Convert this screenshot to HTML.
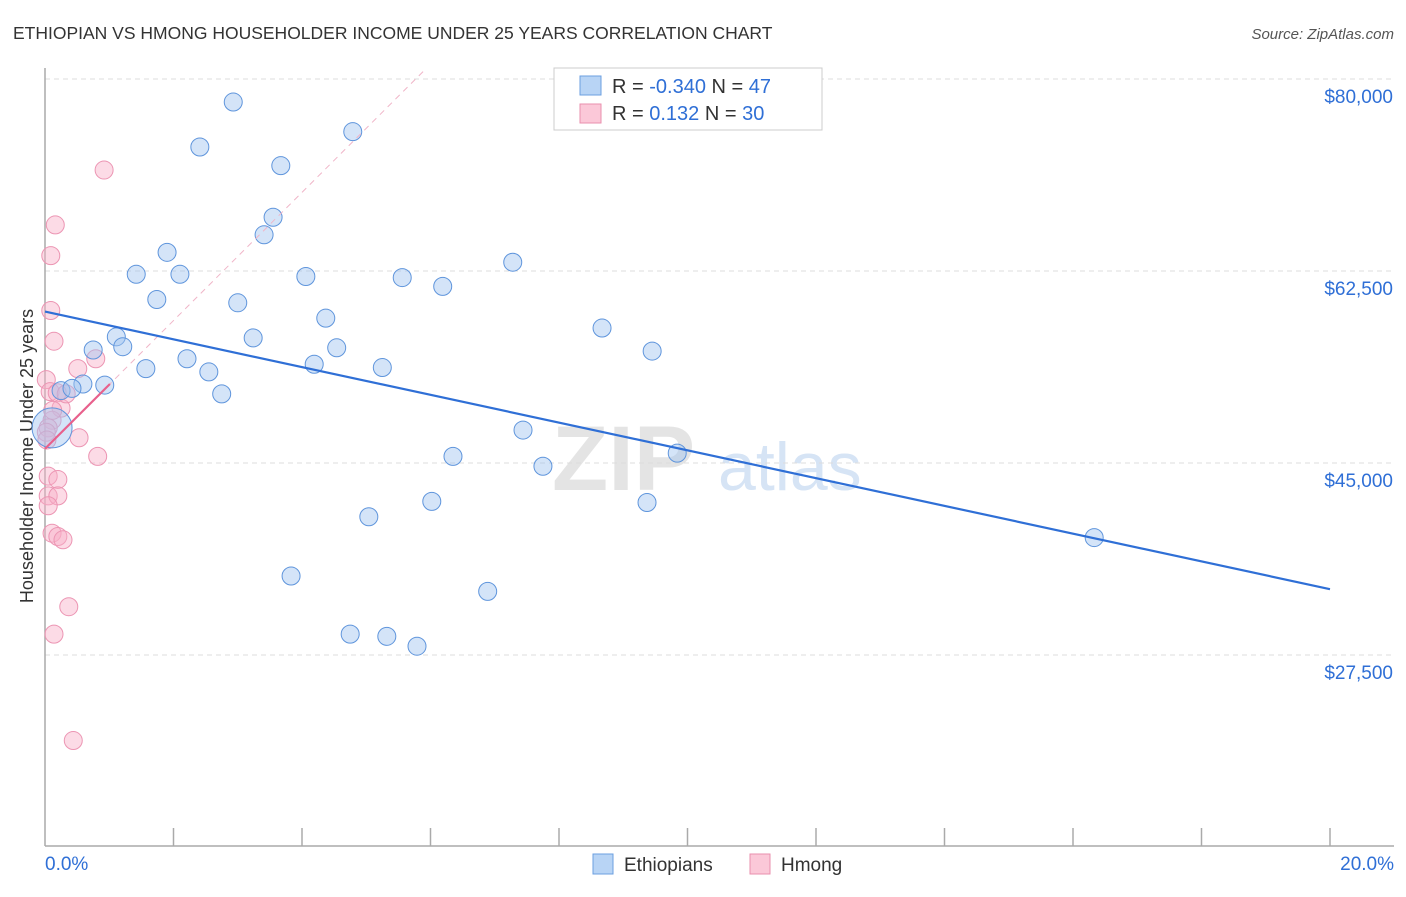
<!DOCTYPE html>
<html><head><meta charset="utf-8"><style>
body{margin:0;background:#fff;font-family:"Liberation Sans",sans-serif;}
svg text{font-family:"Liberation Sans",sans-serif;}
</style></head><body>
<svg id="chart" width="1406" height="892" xmlns="http://www.w3.org/2000/svg">
<text x="13" y="39" font-size="17.5" fill="#333">ETHIOPIAN VS HMONG HOUSEHOLDER INCOME UNDER 25 YEARS CORRELATION CHART</text>
<text x="1394" y="39" font-size="15" fill="#555" text-anchor="end" font-style="italic">Source: ZipAtlas.com</text>
<text transform="translate(33,456) rotate(-90)" font-size="18" fill="#333" text-anchor="middle">Householder Income Under 25 years</text>
<text x="552" y="490" font-size="92" fill="#e4e4e4" font-family="Liberation Serif" font-weight="bold">ZIP</text>
<text x="718" y="490" font-size="68" fill="#d6e4f5">atlas</text>
<g id="grid"></g><g id="axes"></g><g id="pts"></g><g id="lines"></g>
<g>
<rect x="554" y="68" width="268" height="62" fill="#fff" stroke="#ccc"/>
<rect x="580" y="76" width="21" height="19" fill="#b8d4f5" stroke="#6b9fe0"/>
<rect x="580" y="104" width="21" height="19" fill="#fbc8d8" stroke="#ea8fae"/>
<text x="612" y="93" font-size="20" fill="#333">R = <tspan fill="#2f6fd6">-0.340</tspan>   N = <tspan fill="#2f6fd6">47</tspan></text>
<text x="612" y="120" font-size="20" fill="#333">R =    <tspan fill="#2f6fd6">0.132</tspan>   N = <tspan fill="#2f6fd6">30</tspan></text>
</g>
<g>
<rect x="593" y="854" width="20" height="20" fill="#b8d4f5" stroke="#6b9fe0"/>
<text x="624" y="871" font-size="19" fill="#333">Ethiopians</text>
<rect x="750" y="854" width="20" height="20" fill="#fbc8d8" stroke="#ea8fae"/>
<text x="781" y="871" font-size="19" fill="#333">Hmong</text>
</g>
</svg>
<script>
const yTicks=[80000,62500,45000,27500];
const yTickLabels=["$80,000","$62,500","$45,000","$27,500"];
const xTickLabels=["0.0%","20.0%"];
const ethX=[2.93,2.41,4.79,3.67,3.55,3.41,1.90,1.42,2.10,4.06,5.56,6.19,7.28,1.74,3.00,4.37,1.11,3.24,8.67,0.75,1.21,4.54,9.45,2.21,1.57,4.19,5.25,2.55,0.59,0.93,0.25,0.42,2.75,7.44,6.35,7.75,9.84,6.02,9.37,5.04,16.33,3.83,6.89,4.75,5.32,5.79,0.11];
const ethY=[77900,73800,75200,72100,67400,65800,64200,62200,62200,62000,61900,61100,63300,59900,59600,58200,56500,56400,57300,55300,55600,55500,55200,54500,53600,54000,53700,53300,52200,52100,51600,51800,51300,48000,45600,44700,45900,41500,41400,40100,38200,34700,33300,29400,29200,28300,48200];
const hmX=[0.92,0.16,0.09,0.09,0.14,0.79,0.51,0.02,0.08,0.19,0.25,0.11,0.05,0.02,0.53,0.82,0.05,0.20,0.05,0.20,0.05,0.11,0.20,0.28,0.37,0.14,0.44,0.33,0.12,0.03];
const hmY=[71700,66700,63900,58900,56100,54500,53600,52600,51500,51400,50000,48900,48200,47800,47300,45600,43800,43500,42000,42000,41100,38600,38300,38000,31900,29400,19700,51300,49800,47100];
const ethLine=[58800,33500];
const hmLine=[46300,52200];
const hmLineEnd=1.01;
const NS="http://www.w3.org/2000/svg";
const X=v=>45+v*1285/20;
const Y=v=>79+(80000-v)*0.010971;
function mk(tag,attrs,parent){const e=document.createElementNS(NS,tag);for(const k in attrs)e.setAttribute(k,attrs[k]);document.getElementById(parent).appendChild(e);return e;}
yTicks.forEach((t,i)=>{
 const l=mk('line',{x1:45,x2:1394,y1:Y(t),y2:Y(t),stroke:'#ddd','stroke-dasharray':'5,4'},'grid');
 
 
 const tx=mk('text',{x:1393,y:Y(t)+24,'font-size':19,fill:'#2f6fd6','text-anchor':'end'},'axes');
 tx.textContent=yTickLabels[i];
 
 
});
const ax=mk('line',{x1:45,x2:45,y1:68,y2:846,stroke:'#aaa','stroke-width':1.5},'axes');


const bx=mk('line',{x1:45,x2:1394,y1:846,y2:846,stroke:'#aaa','stroke-width':1.5},'axes');


for(let i=1;i<=10;i++){
 const t=mk('line',{x1:X(i*2),x2:X(i*2),y1:828,y2:846,stroke:'#aaa','stroke-width':1.5},'axes');
 
 
}
const xl0=mk('text',{x:45,y:870,'font-size':19,fill:'#2f6fd6'},'axes');xl0.textContent=xTickLabels[0];


const xl1=mk('text',{x:1394,y:870,'font-size':19,fill:'#2f6fd6','text-anchor':'end'},'axes');xl1.textContent=xTickLabels[1];


hmX.forEach((x,i)=>{
 const c=mk('circle',{cx:X(x),cy:Y(hmY[i]),r:9,fill:'rgba(248,176,200,0.45)',stroke:'#ec95b3','stroke-width':1},'pts');
 
 
});
ethX.forEach((x,i)=>{
 const c=mk('circle',{cx:X(x),cy:Y(ethY[i]),r:i===ethX.length-1?20:9,fill:'rgba(160,196,240,0.45)',stroke:'#5f95dc','stroke-width':1},'pts');
 
 
});
const d=mk('line',{x1:X(0),y1:Y(hmLine[0]),x2:X(0)+(425-45),y2:Y(hmLine[0])-(425-45)*(Y(hmLine[0])-Y(hmLine[1]))/(X(hmLineEnd)-X(0)),stroke:'#f0b5c8','stroke-dasharray':'6,5','stroke-width':1},'lines');


const bl=mk('line',{x1:X(0),y1:Y(ethLine[0]),x2:X(20),y2:Y(ethLine[1]),stroke:'#2f6fd6','stroke-width':2.2},'lines');


const pl=mk('line',{x1:X(0),y1:Y(hmLine[0]),x2:X(hmLineEnd),y2:Y(hmLine[1]),stroke:'#e8608c','stroke-width':2.2},'lines');


</script>
</body></html>
